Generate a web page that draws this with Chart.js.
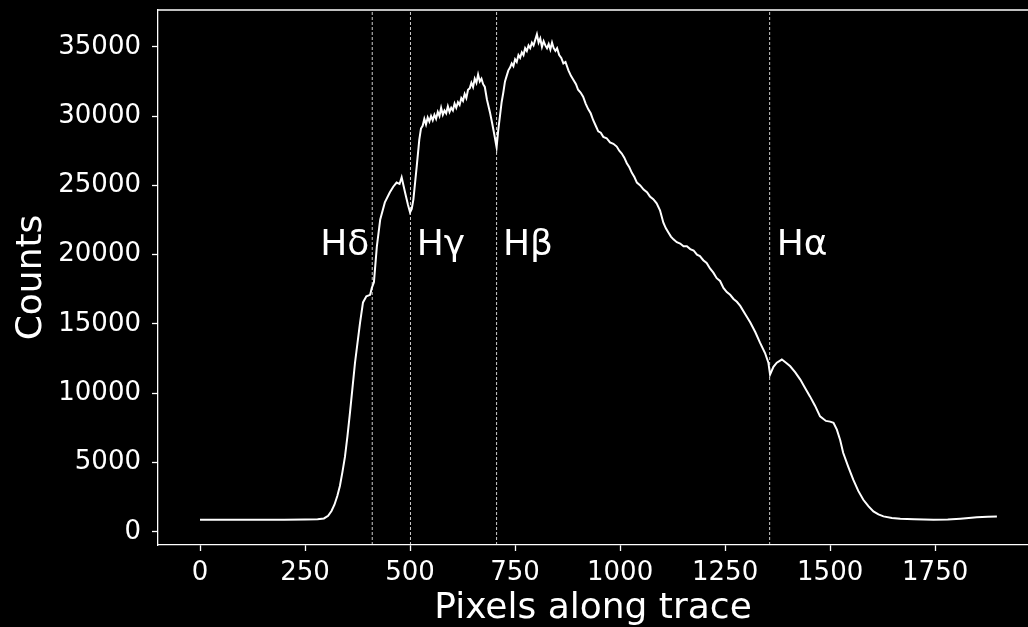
<!DOCTYPE html>
<html>
<head>
<meta charset="utf-8">
<script src="https://cdn.jsdelivr.net/npm/chart.js@4"></script>
<style>
  html, body { margin: 0; padding: 0; background: #000; overflow: hidden; }
  canvas { display: block; }
</style>
</head>
<body>
<canvas id="myChart" width="1028" height="627"></canvas>
<script>
// spectrum (pixel along trace, counts)
const pixels = [0, 50, 100, 150, 200, 250, 280, 295, 305, 313, 320, 327, 333, 339, 345, 351, 357, 369, 381, 388, 396, 405, 409, 414,
  421, 429, 440, 452, 460, 468, 475, 480, 488, 495, 500, 504, 508, 516,
  522, 526, 530, 534, 538, 542, 546, 550, 554, 558, 562, 566, 570, 574, 578, 582, 586, 590, 594, 598,
  602, 606, 610, 614, 618, 622, 626, 630, 634, 638, 642, 646, 650, 654, 658, 662, 666, 670, 674, 678,
  683, 690, 695, 701, 706, 710, 714, 718, 722, 726, 730, 734, 738, 742, 746, 750, 754, 758, 762, 766,
  770, 774, 778, 782, 786, 790, 794, 798, 802, 806, 810, 814, 818, 822, 826, 830, 834, 838, 842, 846,
  850, 855, 860, 865, 870, 877, 883, 889, 895, 900, 906, 912, 918, 924, 930, 936, 942, 948, 954, 960,
  968, 976, 984, 992, 998, 1004, 1010, 1016, 1022, 1028, 1034, 1040, 1048, 1056, 1064, 1071, 1079, 1087, 1095, 1103,
  1109, 1115, 1121, 1127, 1135, 1143, 1151, 1159, 1167, 1175, 1183, 1190, 1198, 1206, 1214, 1222, 1230, 1238, 1246, 1254,
  1262, 1270, 1278, 1286, 1298, 1310, 1322, 1333, 1345, 1353, 1357, 1365,
  1373, 1385, 1395, 1405, 1417, 1429, 1440, 1452, 1464, 1476, 1490, 1500, 1508, 1516, 1524, 1531, 1543, 1555, 1567, 1579,
  1591, 1603, 1615, 1627, 1647, 1667, 1700, 1746, 1780, 1810, 1830, 1849, 1875, 1897];
const counts = [860, 860, 865, 865, 870, 880, 900, 960, 1150, 1500, 1950, 2600, 3300, 4300, 5400, 6900, 8600, 12200, 15100, 16550, 17000, 17100, 17600, 18000,
  20600, 22540, 23770, 24500, 24900, 25200, 25100, 25580, 24500, 23600, 23050, 23300, 23990, 26400,
  28300, 29100, 29300, 29800, 29400, 29900, 29600, 30000, 29700, 30100, 29800, 30300, 30000, 30600, 30100, 30400, 30200, 30700, 30300, 30600,
  30400, 30900, 30600, 31000, 30800, 31300, 31100, 31600, 31300, 31900, 32000, 32400, 32100, 32700, 32400, 33000, 32500, 32700, 32300, 32100,
  31200, 30300, 29550, 28600, 27740, 29000, 30000, 31000, 31700, 32500, 32900, 33300, 33500, 33800, 33600, 34100, 33900, 34400, 34200, 34600,
  34400, 34900, 34700, 35100, 34900, 35300, 35100, 35500, 35900, 35300, 35600, 35000, 35400, 35100, 34900, 35200, 34800, 35300, 34900, 34700,
  34900, 34400, 34200, 33800, 33900, 33300, 32900, 32600, 32300, 31900, 31700, 31400, 30900, 30500, 30200, 29700, 29300, 28900, 28800, 28500,
  28400, 28100, 28000, 27800, 27500, 27300, 27000, 26600, 26300, 25900, 25600, 25200, 25000, 24700, 24500, 24200, 24000, 23700, 23200, 22300,
  21900, 21600, 21300, 21100, 20900, 20800, 20600, 20600, 20400, 20300, 20000, 19900, 19600, 19400, 19000, 18700, 18300, 18100, 17600, 17300,
  17100, 16800, 16600, 16300, 15700, 15100, 14400, 13650, 12900, 12200, 11340, 11900,
  12200, 12430, 12200, 11940, 11500, 10980, 10400, 9770, 9100, 8330, 8000, 7950, 7870, 7370, 6600, 5700, 4700, 3760, 2950, 2310,
  1850, 1470, 1250, 1110, 1000, 940, 900, 870, 880, 940, 990, 1040, 1080, 1110];

// Balmer lines
const lineNames = ["Hδ", "Hγ", "Hβ", "Hα"];
const linePixels = [410, 501, 706, 1356];
const labelPixels = [286, 516, 721, 1373];
const labelCount = 20000;

const xTicks = [0, 250, 500, 750, 1000, 1250, 1500, 1750];
const yTicks = [0, 5000, 10000, 15000, 20000, 25000, 30000, 35000];
const xMin = -100, xMax = 1971;
const yMin = -955, yMax = 37655;

Chart.defaults.font.family = "'DejaVu Sans', sans-serif";
Chart.defaults.color = "#fff";

const datasets = [{
  data: pixels.map((p, i) => ({ x: p, y: counts[i] })),
  borderColor: "#fff",
  borderWidth: 2,
  pointRadius: 0,
  tension: 0
}];
linePixels.forEach(p => {
  datasets.push({
    data: [{ x: p, y: yMin }, { x: p, y: yMax }],
    borderColor: "rgba(255,255,255,0.8)",
    borderWidth: 1,
    borderDash: [3, 2],
    pointRadius: 0
  });
});

// top spine + line names
const extras = {
  id: "extras",
  beforeDraw(chart) {
    const c = chart.ctx;
    c.save();
    c.fillStyle = "#000";
    c.fillRect(0, 0, chart.width, chart.height);
    c.restore();
  },
  afterDraw(chart) {
    const c = chart.ctx;
    const a = chart.chartArea;
    const xs = chart.scales.x, ys = chart.scales.y;
    c.save();
    c.strokeStyle = "#fff";
    c.lineWidth = 1.3;
    c.beginPath();
    c.moveTo(a.left, a.top);
    c.lineTo(a.right, a.top);
    c.stroke();
    c.fillStyle = "#fff";
    c.font = "36px 'DejaVu Sans'";
    c.textAlign = "left";
    c.textBaseline = "alphabetic";
    lineNames.forEach((n, i) => {
      c.fillText(n, xs.getPixelForValue(labelPixels[i]), ys.getPixelForValue(labelCount));
    });
    c.restore();
  }
};

const ctx = document.getElementById("myChart").getContext("2d");
new Chart(ctx, {
  type: "line",
  data: { datasets: datasets },
  options: {
    responsive: false,
    animation: false,
    devicePixelRatio: 1,
    layout: { padding: { top: 10, right: 0, left: 0, bottom: 0 } },
    plugins: { legend: { display: false }, tooltip: { enabled: false } },
    scales: {
      x: {
        type: "linear",
        min: xMin,
        max: xMax,
        afterBuildTicks: s => { s.ticks = xTicks.map(v => ({ value: v })); },
        afterFit: s => { s.height = 82; s.paddingLeft = 0; s.paddingRight = 0; },
        ticks: { font: { size: 26 }, color: "#fff", padding: 7, maxRotation: 0, callback: v => String(v) },
        grid: { drawOnChartArea: false, drawTicks: true, tickLength: 6, tickColor: "#fff", tickWidth: 1.3 },
        border: { color: "#fff", width: 1.3 },
        title: { display: true, text: "Pixels along trace", font: { size: 36 }, color: "#fff", padding: { top: 0, bottom: -3 } }
      },
      y: {
        min: yMin,
        max: yMax,
        afterBuildTicks: s => { s.ticks = yTicks.map(v => ({ value: v })); },
        afterFit: s => { s.width = 158; s.paddingTop = 0; s.paddingBottom = 0; },
        ticks: { font: { size: 26 }, color: "#fff", padding: 11, callback: v => String(v) },
        grid: { drawOnChartArea: false, drawTicks: true, tickLength: 6, tickColor: "#fff", tickWidth: 1.3 },
        border: { color: "#fff", width: 1.3 },
        title: { display: true, text: "Counts", font: { size: 36 }, color: "#fff", padding: { top: 10, bottom: 0 } }
      }
    }
  },
  plugins: [extras]
});
</script>
</body>
</html>
